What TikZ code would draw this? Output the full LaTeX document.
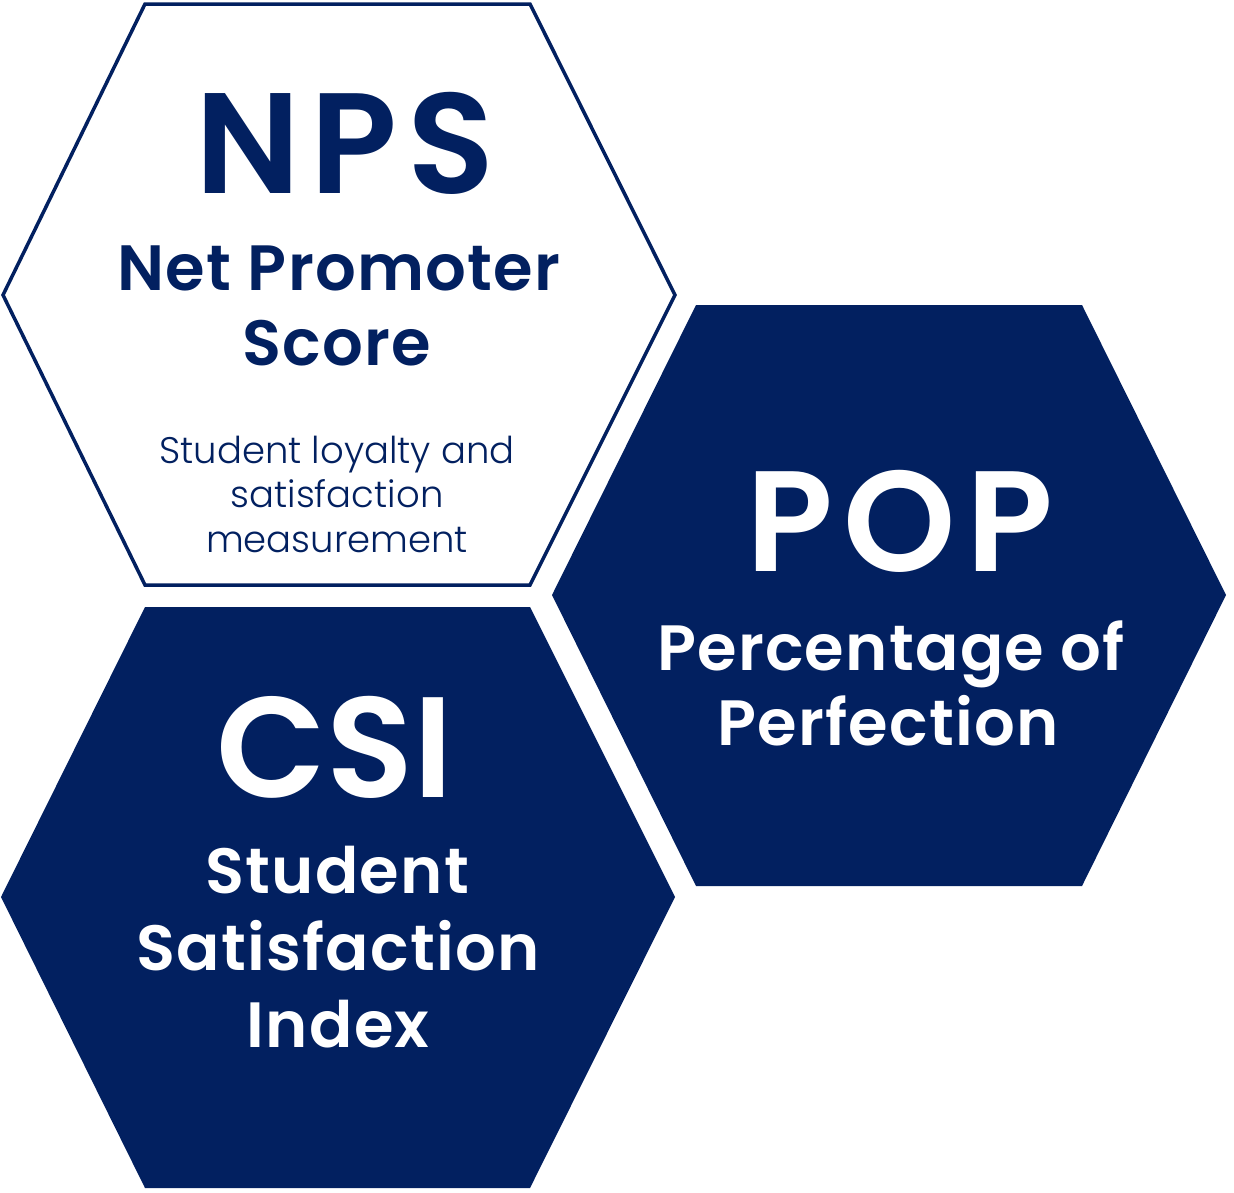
\documentclass[tikz,border=0pt]{standalone}
\usepackage{fontspec}
\setmainfont{Poppins}
\newfontfamily\poplight{Poppins Light}
\newfontfamily\popbig{Poppins SemiBold}[LetterSpace=7]
\newfontfamily\popbigtight{Poppins SemiBold}[LetterSpace=0]
\newfontfamily\popsub{Poppins SemiBold}[LetterSpace=2]
\definecolor{navy}{RGB}{2,32,96}
\tikzset{
  hexfill/.style={fill=navy, draw=none},
  hexline/.style={draw=navy, line width=3.5pt, fill=white, line join=miter},
  bigtitle/.style={anchor=base, inner sep=0pt, font=\fontsize{143}{150}\popbig},
  bigtitletight/.style={anchor=base, inner sep=0pt, font=\fontsize{143}{150}\popbigtight},
  subtitle/.style={anchor=base, inner sep=0pt, font=\fontsize{64}{75}\popsub},
  smalltext/.style={anchor=base, inner sep=0pt, font=\fontsize{37}{45}\poplight},
}
\begin{document}
\begin{tikzpicture}[x=1pt,y=-1pt]
  \useasboundingbox (0,0) rectangle (1234,1192);

  % NPS: outlined hexagon
  \draw[hexline] (145,4) -- (530,4) -- (675,295) -- (530,585) -- (145,585) -- (3,295) -- cycle;
  % CSI: filled hexagon
  \fill[hexfill] (145,607) -- (530,607) -- (675,897) -- (530,1188) -- (145,1188) -- (1,897) -- cycle;
  % POP: filled hexagon
  \fill[hexfill] (696,305) -- (1082,305) -- (1226,595) -- (1082,886) -- (696,886) -- (552,595) -- cycle;

  % NPS text
  \node[bigtitle, text=navy] (npsT) at (345,193) {NPS};
  \node[subtitle, text=navy] (npsA) at (339,290) {Net Promoter};
  \node[subtitle, text=navy] (npsB) at (337,365) {Score};
  \node[smalltext, text=navy] (npsC) at (337,463) {Student loyalty and};
  \node[smalltext, text=navy] (npsD) at (337,507) {satisfaction};
  \node[smalltext, text=navy] (npsE) at (337,552) {measurement};

  % POP text
  \node[bigtitle, text=white] (popT) at (900,571) {POP};
  \node[subtitle, text=white] (popA) at (891,670) {Percentage of};
  \node[subtitle, text=white] (popB) at (888,745) {Perfection};

  % CSI text
  \node[bigtitletight, text=white] (csiT) at (335,797) {CSI};
  \node[subtitle, text=white] (csiA) at (337,893) {Student};
  \node[subtitle, text=white] (csiB) at (338,970) {Satisfaction};
  \node[subtitle, text=white] (csiC) at (338,1047) {Index};
\end{tikzpicture}
\end{document}
